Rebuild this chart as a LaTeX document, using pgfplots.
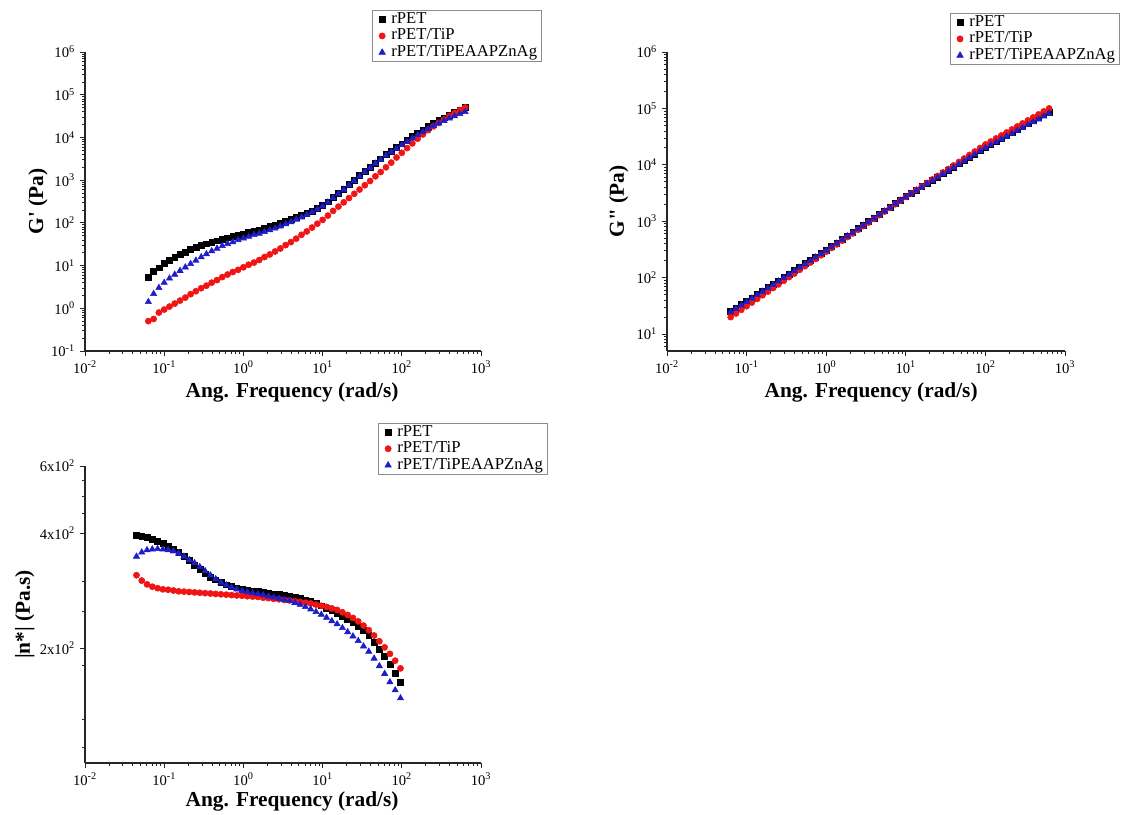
\documentclass[border=0pt]{standalone}
\usepackage{pgfplots}
\pgfplotsset{compat=1.18}
\usepackage{pgfplotstable}
\usepackage{fontspec}
\setmainfont{Liberation Serif}
\definecolor{cred}{RGB}{240,20,20}
\definecolor{cblue}{RGB}{30,30,200}

\pgfplotsset{
  log base 10 number format code/.code={10\textsuperscript{\pgfmathprintnumber[assume math mode=true]{#1}}},
  legend image code/.code={\path (0cm,0cm) (0.38cm,0cm); \draw[mark repeat=2,mark phase=2,#1] plot coordinates {(0.04cm,0cm) (0.16cm,0cm) (0.28cm,0cm)};},
  every axis/.append style={
    scale only axis,
    axis x line*=bottom, axis y line*=left,
    axis line style={line width=0.9pt, black!85},
    tick align=outside,
    major tick length=4pt, minor tick length=2.2pt,
    tick style={black!85, line width=0.6pt},
    minor tick style={black!85, line width=0.5pt},
    tick label style={font=\fontsize{11}{12}\selectfont},
    label style={font=\fontsize{16}{18}\selectfont\bfseries},
    xmin=0.01, xmax=1000,
    xtick={0.01,0.1,1,10,100,1000},
    minor xtick={0.02,0.03,0.04,0.05,0.06,0.07,0.08,0.09,0.2,0.3,0.4,0.5,0.6,0.7,0.8,0.9,2,3,4,5,6,7,8,9,20,30,40,50,60,70,80,90,200,300,400,500,600,700,800,900},
    xlabel={Ang. Frequency (rad/s)},
    legend cell align=left,
    legend style={draw=black!45, line width=0.5pt, fill=white,
      font=\fontsize{12.5}{13}\selectfont, inner xsep=2.5pt, inner ysep=0.5pt,
      nodes={inner sep=0.4pt, text height=8.8pt, text depth=2.8pt}, anchor=north west},
  },
}

% G' (storage modulus): x, rPET, rPET/TiP, rPET/TiPEAAPZnAg
\pgfplotstableread{
x a b c
0.06310 5.37 0.501 1.413
0.07356 7.24 0.562 2.188
0.08577 8.91 0.794 3.020
0.1000 11.2 0.933 3.981
0.1166 13.2 1.096 5.012
0.1359 15.8 1.288 6.166
0.1585 18.6 1.514 7.586
0.1848 20.9 1.778 9.120
0.2154 24.0 2.138 10.96
0.2512 26.9 2.512 13.18
0.2929 29.5 2.951 15.85
0.3415 32.4 3.388 18.62
0.3981 35.5 3.981 21.88
0.4642 38.0 4.571 25.12
0.5412 41.7 5.370 28.84
0.6310 44.7 6.166 32.36
0.7356 47.9 7.079 35.48
0.8577 51.3 7.943 39.81
1.000 55.0 9.120 43.65
1.166 58.9 10.47 47.86
1.359 63.1 11.75 52.48
1.585 67.6 13.49 56.23
1.848 74.1 15.85 61.66
2.154 81.3 18.20 67.61
2.512 89.1 21.38 74.13
2.929 97.7 25.12 83.18
3.415 110 30.20 93.33
3.981 120 35.48 104.7
4.642 135 42.66 120.2
5.412 151 52.48 134.9
6.310 166 63.10 154.9
7.356 190.5 77.62 177.8
8.577 218.8 95.50 208.9
10.00 257.0 117.5 245.5
11.66 312.6 147.9 302.0
13.59 393.6 190.5 380.2
15.85 495.5 239.9 478.6
18.48 623.7 302.0 602.6
21.54 785.2 380.2 758.6
25.12 988.6 478.6 955.0
29.29 1274 602.6 1230
34.15 1603 758.6 1549
39.81 2018 955.0 1950
46.42 2541 1230 2455
54.12 3162 1549 3020
63.10 3981 1995 3802
73.56 4842 2570 4571
85.77 5888 3388 5495
100.0 7079 4365 6607
116.6 8610 5623 7943
135.9 10470 7244 9550
158.5 12590 9333 11480
184.8 15140 11750 13490
215.4 17990 14790 15850
251.2 21380 18200 18620
292.9 24830 21880 21380
341.5 28840 26300 24550
398.1 33500 31620 28180
464.2 38460 37150 31620
541.2 44160 43650 35480
631.0 50120 50120 39810
}\tabGp

% G'' (loss modulus)
\pgfplotstableread{
x a b c
0.06310 25.0 19.95 24.55
0.07356 28.8 23.12 28.25
0.08577 33.1 26.85 32.43
0.1000 38.1 31.12 37.33
0.1166 43.7 36.14 42.85
0.1359 50.3 41.88 49.32
0.1585 57.8 48.64 56.62
0.1848 66.5 56.36 65.16
0.2154 76.3 65.46 74.82
0.2512 87.8 75.86 86.10
0.2929 101.1 87.90 99.08
0.3415 116.1 102.1 113.8
0.3981 133.5 118.3 130.9
0.4642 153.3 137.4 150.3
0.5412 176.5 159.2 173.0
0.6310 202.6 184.9 198.6
0.7356 233.2 214.3 228.6
0.8577 267.6 248.9 262.4
1.000 308.0 288.4 302.0
1.166 356.1 335.0 349.1
1.359 412.7 388.1 404.6
1.585 477.1 450.8 467.7
1.848 551.6 523.6 540.8
2.154 639.1 606.7 626.6
2.512 738.9 704.7 724.4
2.929 854.3 818.5 837.5
3.415 989.9 948.4 970.5
3.981 1144 1102 1122
4.642 1323 1279 1297
5.412 1533 1483 1503
6.310 1773 1722 1738
7.356 2049 2000 2009
8.577 2375 2317 2328
10.00 2746 2692 2692
11.66 3138 3105 3076
13.59 3586 3581 3516
15.85 4098 4130 4018
18.48 4684 4764 4592
21.54 5353 5495 5248
25.12 6118 6339 5998
29.29 6992 7311 6855
34.15 7991 8433 7834
39.81 9133 9727 8954
46.42 10430 11220 10230
54.12 11930 12940 11700
63.10 13640 14930 13370
73.56 15590 17220 15280
85.77 17810 19860 17460
100.0 20350 22910 19950
116.6 22980 25880 22440
135.9 25950 29310 25230
158.5 29300 33110 28380
184.8 33030 37410 31840
215.4 37280 42360 35810
251.2 42070 47860 40270
292.9 47480 54080 45290
341.5 53580 61240 50930
398.1 60470 69180 57280
464.2 68230 78160 64270
541.2 76980 88510 72280
631.0 86850 100000 81280
}\tabGpp

% |eta*| (complex viscosity)
\pgfplotstableread{
x a b c
0.04467 395.4 310.5 347.5
0.05208 392.6 300.6 356.5
0.06072 389.9 293.8 361.4
0.07079 386.4 289.7 363.1
0.08254 381.9 287.1 363.9
0.09624 376.7 285.1 363.1
0.1122 369.8 284.4 361.4
0.1308 363.1 283.1 358.9
0.1525 356.5 281.8 354.0
0.1778 348.3 281.2 347.5
0.2073 339.6 280.5 340.4
0.2417 330.4 279.9 334.2
0.2818 321.4 279.3 326.6
0.3286 313.3 278.6 318.4
0.3831 306.9 278.0 310.5
0.4467 302.0 277.3 303.4
0.5208 297.8 276.7 297.2
0.6072 293.1 276.1 292.4
0.7079 289.7 275.4 288.4
0.8254 287.7 274.8 285.1
0.9624 285.8 274.2 282.5
1.122 283.8 273.5 280.5
1.308 282.5 272.9 278.6
1.525 281.2 272.3 277.3
1.778 279.9 271.0 275.4
2.073 278.6 270.4 273.5
2.417 277.3 269.2 271.6
2.818 276.1 268.5 269.8
3.286 274.8 267.3 267.9
3.831 273.5 266.7 266.1
4.467 271.6 265.5 263.0
5.208 269.8 264.2 260.0
6.072 267.3 263.0 256.4
7.079 264.9 261.8 252.9
8.254 261.8 260.0 248.9
9.624 258.2 258.2 244.9
11.22 254.7 256.4 240.4
13.08 251.2 254.1 235.5
15.25 247.2 251.8 231.2
17.78 242.7 248.3 225.9
20.73 238.2 244.3 220.3
24.17 233.9 239.9 214.8
28.18 228.6 235.0 208.9
32.86 222.3 229.1 202.3
38.31 215.8 222.8 195.9
44.67 207.0 215.8 187.9
52.08 198.6 208.4 179.5
60.72 190.5 200.9 171.4
70.79 181.1 193.2 162.9
82.54 171.8 185.4 155.2
96.24 162.9 177.0 147.9
}\tabEta

\begin{document}
\begin{tikzpicture}
\path[use as bounding box] (0,0) rectangle (844.5pt,610.5pt);

% ---- G' ----
\begin{loglogaxis}[at={(63.75pt,347.25pt)}, anchor=south west,
  width=297pt, height=224.25pt,
  ymin=0.1, ymax=1e6, ytick={0.1,1,10,100,1000,10000,100000,1000000},
  minor ytick={0.2,0.3,0.4,0.5,0.6,0.7,0.8,0.9,2,3,4,5,6,7,8,9,20,30,40,50,60,70,80,90,200,300,400,500,600,700,800,900,2000,3000,4000,5000,6000,7000,8000,9000,2e4,3e4,4e4,5e4,6e4,7e4,8e4,9e4,2e5,3e5,4e5,5e5,6e5,7e5,8e5,9e5},
  ylabel={G\textquotesingle{} (Pa)},
  xlabel style={at={(axis description cs:0.523,-0.137)}, anchor=center},
  ylabel style={at={(axis description cs:-0.119,0.5)}, anchor=center},
  legend style={at={(axis description cs:0.725,1.14)}}]
\addplot[only marks, mark=square*, mark size=2.2pt, color=black] table[x=x,y=a]{\tabGp};
\addplot[only marks, mark=*, mark size=2.3pt, color=cred] table[x=x,y=b]{\tabGp};
\addplot[only marks, mark=triangle*, mark size=2.7pt, color=cblue] table[x=x,y=c]{\tabGp};
\legend{rPET,rPET/TiP,rPET/TiPEAAPZnAg}
\end{loglogaxis}

% ---- G'' ----
\begin{loglogaxis}[at={(500.25pt,347.25pt)}, anchor=south west,
  width=298.5pt, height=224.25pt,
  ymin=5, ymax=1e6, ytick={10,100,1000,10000,100000,1000000},
  minor ytick={6,7,8,9,20,30,40,50,60,70,80,90,200,300,400,500,600,700,800,900,2000,3000,4000,5000,6000,7000,8000,9000,2e4,3e4,4e4,5e4,6e4,7e4,8e4,9e4,2e5,3e5,4e5,5e5,6e5,7e5,8e5,9e5},
  ylabel={G\textquotedbl{} (Pa)},
  xlabel style={at={(axis description cs:0.513,-0.14)}, anchor=center},
  ylabel style={at={(axis description cs:-0.121,0.5)}, anchor=center},
  legend style={at={(axis description cs:0.711,1.13)}}]
\addplot[only marks, mark=square*, mark size=2.2pt, color=black] table[x=x,y=a]{\tabGpp};
\addplot[only marks, mark=*, mark size=2.3pt, color=cred] table[x=x,y=b]{\tabGpp};
\addplot[only marks, mark=triangle*, mark size=2.7pt, color=cblue] table[x=x,y=c]{\tabGpp};
\legend{rPET,rPET/TiP,rPET/TiPEAAPZnAg}
\end{loglogaxis}

% ---- |eta*| ----
\begin{loglogaxis}[at={(63.75pt,38.25pt)}, anchor=south west,
  width=297pt, height=222.75pt,
  ymin=100, ymax=600, ytick={200,400,600},
  yticklabels={2x10\textsuperscript{2},4x10\textsuperscript{2},6x10\textsuperscript{2}},
  minor ytick={110,130,180,250,300,450,500,550},
  ylabel={|n*| (Pa.s)},
  xlabel style={at={(axis description cs:0.523,-0.131)}, anchor=center},
  ylabel style={at={(axis description cs:-0.152,0.5)}, anchor=center},
  legend style={at={(axis description cs:0.740,1.145)}}]
\addplot[only marks, mark=square*, mark size=2.2pt, color=black] table[x=x,y=a]{\tabEta};
\addplot[only marks, mark=*, mark size=2.3pt, color=cred] table[x=x,y=b]{\tabEta};
\addplot[only marks, mark=triangle*, mark size=2.7pt, color=cblue] table[x=x,y=c]{\tabEta};
\legend{rPET,rPET/TiP,rPET/TiPEAAPZnAg}
\end{loglogaxis}
\end{tikzpicture}
\end{document}
